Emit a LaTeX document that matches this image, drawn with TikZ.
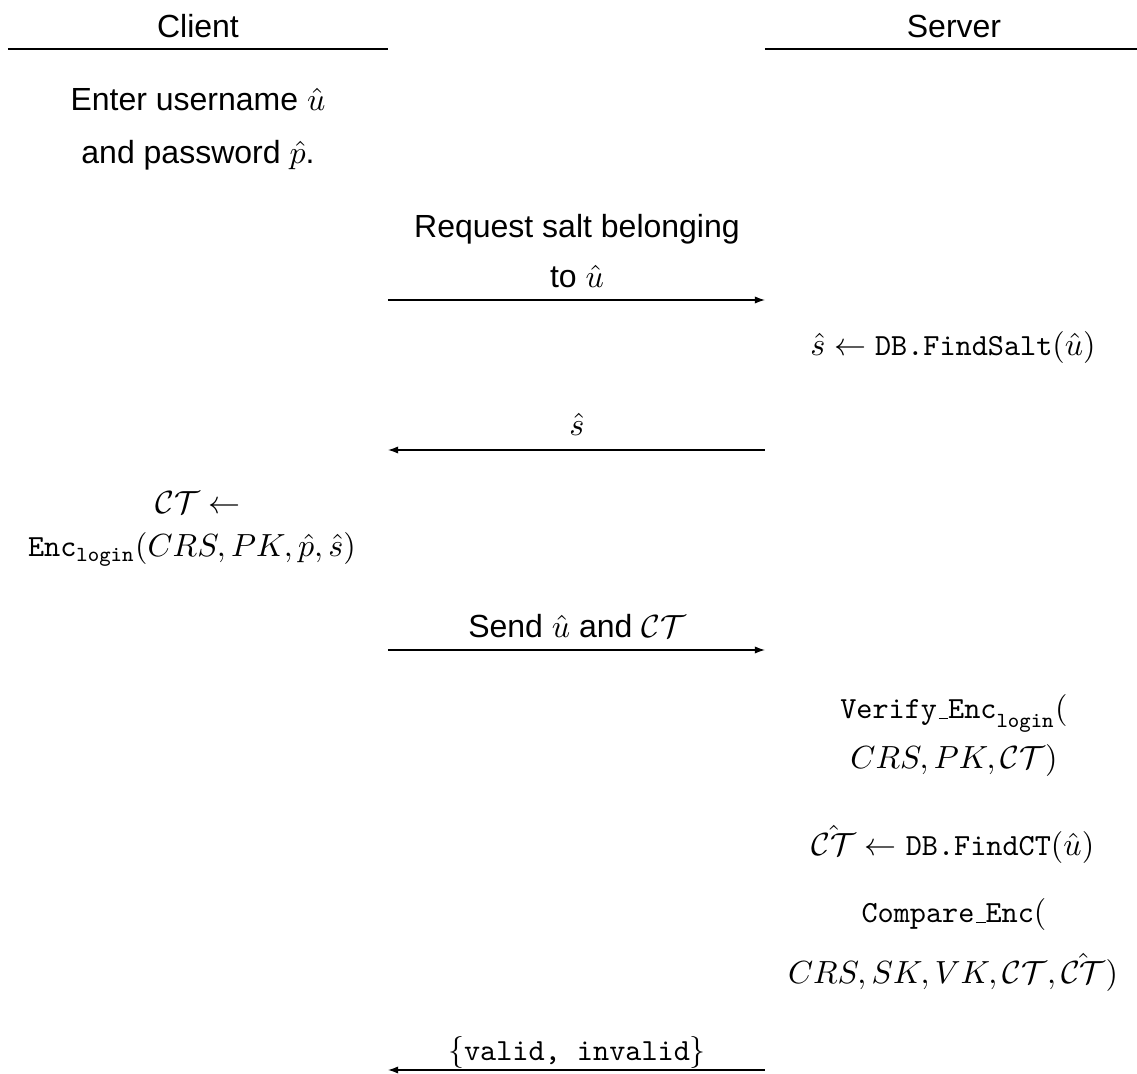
\documentclass[tikz,border=0pt]{standalone}
\usepackage{fontspec}
\newfontfamily\hv{Liberation Sans}
\usetikzlibrary{arrows.meta}
\newcommand\lowbar{\leavevmode\kern.06em\vbox{\hrule width.3em}}
\tikzset{
  txt/.style={anchor=base, inner sep=0pt, outer sep=0pt, font=\hv},
  mth/.style={anchor=base, inner sep=0pt, outer sep=0pt, font=\fontsize{9.6pt}{11.5pt}\selectfont},
  lane/.style={line width=0.4pt, black},
  msg/.style={line width=0.4pt, black, -{Latex[length=3.2pt,width=2.3pt]}}
}
\begin{document}
\begin{tikzpicture}[x=0.3125pt, y=-0.3125pt]
\useasboundingbox (0,0) rectangle (1137,1074);
% headers
\node[txt] (client) at (198,38) {Client};
\node[txt] (server) at (954,38) {Server};
\coordinate (cl1) at (8,49);
\coordinate (cl2) at (388,49);
\coordinate (sl1) at (765,49);
\coordinate (sl2) at (1137,49);
\draw[lane] (cl1) -- (cl2);
\draw[lane] (sl1) -- (sl2);
% client step 1
\node[txt] (enter1) at (198,111) {Enter username $\hat{u}$};
\node[txt] (enter2) at (198,164) {and password $\hat{p}$.};
% message 1
\node[txt] (req1) at (577,238) {Request salt belonging};
\node[txt] (req2) at (577,288) {to $\hat{u}$};
\coordinate (m1a) at (388,300);
\coordinate (m1b) at (765,300);
\draw[msg] (m1a) -- (m1b);
% server step
\node[mth] (salt) at (953,356) {$\hat{s} \leftarrow \texttt{DB.FindSalt}(\hat{u})$};
% message 2
\node[mth] (shat) at (577,436) {$\hat{s}$};
\coordinate (m2a) at (765,450);
\coordinate (m2b) at (388,450);
\draw[msg] (m2a) -- (m2b);
% client step 2
\node[mth] (ct1) at (198,514) {$\mathcal{CT} \leftarrow$};
\node[mth] (ct2) at (192,557) {$\mathtt{Enc}_{\mathtt{login}}(CRS, PK, \hat{p}, \hat{s})$};
% message 3
\node[txt] (send) at (577,638) {Send $\hat{u}$ and $\mathcal{CT}$};
\coordinate (m3a) at (388,650);
\coordinate (m3b) at (765,650);
\draw[msg] (m3a) -- (m3b);
% server steps
\node[mth] (ver1) at (954,719) {$\texttt{Verify\lowbar Enc}_{\mathtt{login}}($};
\node[mth] (ver2) at (954,769) {$CRS, PK, \mathcal{CT})$};
\node[mth] (find) at (953,856) {$\hat{\mathcal{CT}} \leftarrow \texttt{DB.FindCT}(\hat{u})$};
\node[mth] (cmp1) at (954,923) {$\texttt{Compare\lowbar Enc}($};
\node[mth] (cmp2) at (953,984) {$CRS, SK, VK, \mathcal{CT}, \hat{\mathcal{CT}})$};
% message 4
\node[mth] (res) at (577,1061) {$\{\texttt{valid, invalid}\}$};
\coordinate (m4a) at (765,1070);
\coordinate (m4b) at (388,1070);
\draw[msg] (m4a) -- (m4b);
\end{tikzpicture}
\end{document}
